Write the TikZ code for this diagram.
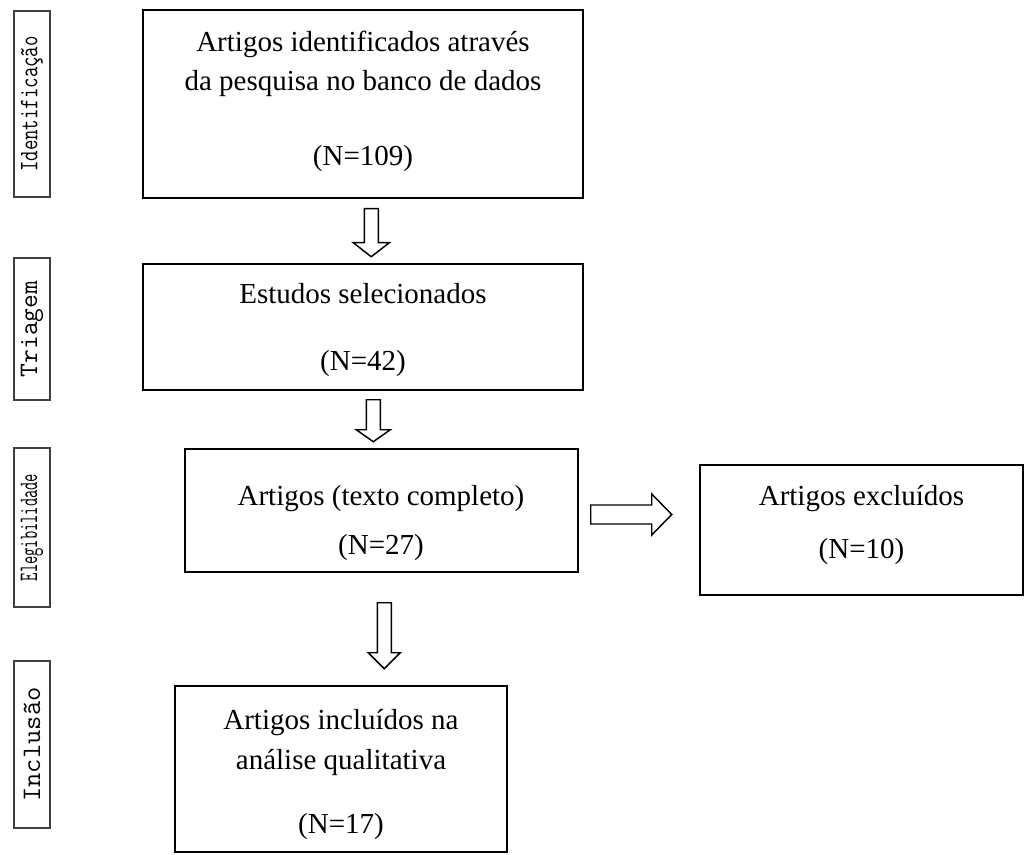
\documentclass[tikz,border=0pt]{standalone}
\usepackage{fontspec}
\setmainfont{Liberation Serif}
\usetikzlibrary{calc,fit}
\newcommand\blkdown[5]{%
  \draw[blk] (#1) ++(-#4,0) -- ++(0,#2) -- ++(#4-#5,0) -- ++(#5,#3) -- ++(#5,-#3) -- ++(#4-#5,0) -- ++(0,-#2) -- cycle;}
\newcommand\blkright[5]{%
  \draw[blk] (#1) ++(0,-#4) -- ++(#2,0) -- ++(0,#4-#5) -- ++(#3,#5) -- ++(-#3,#5) -- ++(0,#4-#5) -- ++(-#2,0) -- cycle;}
\begin{document}
\begin{tikzpicture}[x=0.75pt,y=-0.75pt,
  boxst/.style={draw, line width=1.1pt, inner sep=0pt},
  labbox/.style={draw=black!75, line width=1.3pt, inner sep=0pt},
  txt/.style={font=\fontsize{21.75}{26}\selectfont, inner sep=0pt, anchor=base},
  labtxt/.style={font=\ttfamily\fontsize{20}{22}\selectfont, rotate=90, inner sep=0pt},
  blk/.style={draw, line width=1.1pt, fill=white, line join=miter}]
\useasboundingbox (0,0) rectangle (1027,855);

% stage labels
\node[labbox, fit={(14,11) (50,197)}] (l1) {};
\node[labtxt] (l1t) at (l1.center) {\scalebox{0.76}[1]{Identificação}};
\node[labbox, fit={(14,258) (50,400)}] (l2) {};
\node[labtxt] (l2t) at (l2.center) {\scalebox{1.0}[1]{Triagem}};
\node[labbox, fit={(14,448) (50,607)}] (l3) {};
\node[labtxt] (l3t) at (l3.center) {\scalebox{0.6}[1]{Elegibilidade}};
\node[labbox, fit={(14,661) (50,828)}] (l4) {};
\node[labtxt] (l4t) at (l4.center) {\scalebox{1.04}[1]{Inclusão}};

% boxes
\node[boxst, fit={(143,10) (583,198)}] (b1) {};
\node[txt] (b1a) at (363,52) {Artigos identificados através};
\node[txt] (b1b) at (363,91) {da pesquisa no banco de dados};
\node[txt] (b1c) at (363,166) {(N=109)};

\node[boxst, fit={(143,264) (583,390)}] (b2) {};
\node[txt] (b2a) at (363,304) {Estudos selecionados};
\node[txt] (b2b) at (363,370) {(N=42)};

\node[boxst, fit={(185,449) (578,572)}] (b3) {};
\node[txt] (b3a) at (381,505) {Artigos (texto completo)};
\node[txt] (b3b) at (381,554) {(N=27)};

\node[boxst, fit={(700,465) (1023,595)}] (b4) {};
\node[txt] (b4a) at (861.5,505) {Artigos excluídos};
\node[txt] (b4b) at (861.5,558) {(N=10)};

\node[boxst, fit={(175,686) (507,852)}] (b5) {};
\node[txt] (b5a) at (341,729) {Artigos incluídos na};
\node[txt] (b5b) at (341,769) {análise qualitativa};
\node[txt] (b5c) at (341,833) {(N=17)};

% block arrows
\coordinate (a1) at ($(b1.south west)+(229,10)$);
\blkdown{a1}{34}{14}{7}{18}
\coordinate (a2) at ($(b2.south west)+(231,9)$);
\blkdown{a2}{30}{12}{7}{17}
\coordinate (a3) at ($(b3.south west)+(200,30)$);
\blkdown{a3}{50}{16}{7}{16}
\coordinate (a4) at ($(b3.east)+(12,4)$);
\blkright{a4}{61}{20}{9.5}{20.5}
\end{tikzpicture}
\end{document}
